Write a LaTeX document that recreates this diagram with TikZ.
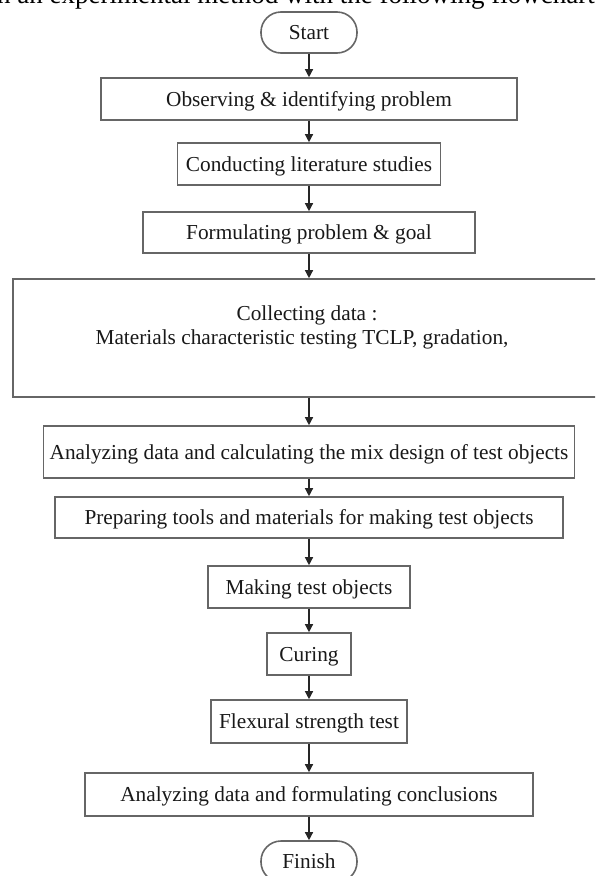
\documentclass[tikz,border=0pt]{standalone}
\usepackage{fontspec}
\setmainfont{Liberation Serif}
\usetikzlibrary{arrows.meta}
\begin{document}
\begin{tikzpicture}[x=1pt,y=-1pt,
  boxst/.style={draw=black!60, line width=1.6pt, rectangle, inner sep=0pt,
    text height=14.5pt, text depth=0pt, font=\fontsize{21.3pt}{25pt}\selectfont, text=black!90},
  termst/.style={boxst, rounded corners=20pt, minimum width=96pt, minimum height=41pt},
  plain/.style={inner sep=0pt, font=\fontsize{21.3pt}{25pt}\selectfont, text=black!90},
  arr/.style={line width=1.3pt, draw=black!85, -{Triangle[length=8pt,width=8pt]}}]
\path[use as bounding box] (0,0) rectangle (595,876);
\clip (0,0) rectangle (595,876);
\fill[white] (0,0) rectangle (595,876);
\node[anchor=base west, inner sep=0pt, font=\fontsize{27pt}{32pt}\selectfont] (intro) at (-3,3) {n an experimental method with the following flowchart};
\node[termst] (start) at (309,32.5) {Start};
\node[boxst, minimum width=416pt, minimum height=42pt] (b1) at (309,99) {Observing \& identifying problem};
\node[boxst, minimum width=263pt, minimum height=42pt] (b2) at (309,164) {Conducting literature studies};
\node[boxst, minimum width=332pt, minimum height=41pt] (b3) at (309,232.5) {Formulating problem \& goal};
\node[boxst, minimum width=592pt, minimum height=118pt] (b4) at (309,338) {};
\node[plain, anchor=base] (b4t1) at (307,320) {Collecting data :};
\node[plain, anchor=base] (b4t2) at (302,344) {Materials characteristic testing TCLP, gradation,};
\node[boxst, minimum width=531pt, minimum height=52pt] (b5) at (309,452) {Analyzing data and calculating the mix design of test objects};
\node[boxst, minimum width=508pt, minimum height=41pt] (b6) at (309,517.5) {Preparing tools and materials for making test objects};
\node[boxst, minimum width=202pt, minimum height=42pt] (b7) at (309,587) {Making test objects};
\node[boxst, minimum width=84pt, minimum height=42pt] (b8) at (309,654) {Curing};
\node[boxst, minimum width=196pt, minimum height=43pt] (b9) at (309,721.5) {Flexural strength test};
\node[boxst, minimum width=448pt, minimum height=43pt] (b10) at (309,794.5) {Analyzing data and formulating conclusions};
\node[termst] (finish) at (309,861.5) {Finish};
\draw[arr] (start.south) -- (b1.north);
\draw[arr] (b1.south) -- (b2.north);
\draw[arr] (b2.south) -- (b3.north);
\draw[arr] (b3.south) -- (b4.north);
\draw[arr] (b4.south) -- (b5.north);
\draw[arr] (b5.south) -- (b6.north);
\draw[arr] (b6.south) -- (b7.north);
\draw[arr] (b7.south) -- (b8.north);
\draw[arr] (b8.south) -- (b9.north);
\draw[arr] (b9.south) -- (b10.north);
\draw[arr] (b10.south) -- (finish.north);
\end{tikzpicture}
\end{document}
